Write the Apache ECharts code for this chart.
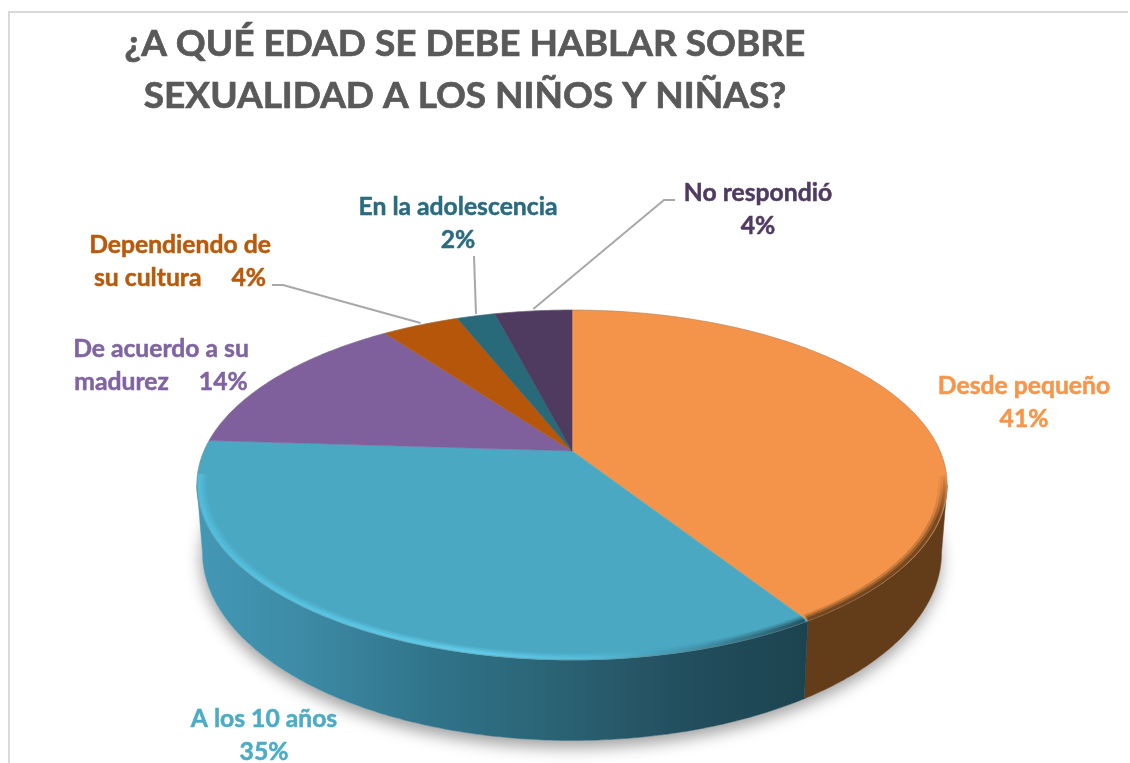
<!DOCTYPE html>
<html><head><meta charset="utf-8">
<style>html,body{margin:0;padding:0;background:#fff}#c{width:1130px;height:763px}</style>
<script src="https://cdn.jsdelivr.net/npm/echarts@6/dist/echarts.min.js"></script>
</head><body><div id="c"></div>
<script>
const titleText = '¿A QUÉ EDAD SE DEBE HABLAR SOBRE\nSEXUALIDAD A LOS NIÑOS Y NIÑAS?';
const categories = ['Desde pequeño', 'A los 10 años', 'De acuerdo a su madurez', 'Dependiendo de su cultura', 'En la adolescencia', 'No respondió'];
const values = [41, 35, 14, 4, 2, 4];
const labelTemplates = ['Desde pequeño\n{v}%', 'A los 10 años\n{v}%', 'De acuerdo a su\nmadurez     {v}%', 'Dependiendo de\nsu cultura     {v}%', 'En la adolescencia\n{v}%', 'No respondió\n{v}%'];
const topColors = ['#F4934A', '#4AA8C3', '#7F609D', '#B5560A', '#28697A', '#4F3A60'];
const textColors = ['#F7964A', '#4BACC6', '#8064A2', '#B85A0C', '#2A6B7E', '#4F3A60'];
const labelPos = [[1024, 403], [264, 736], [161, 366], [180, 262], [458, 224], [758, 210]];
const leaderElbows = [null, null, null, [[283, 285], [272, 285]], [[474, 256]], [[664, 200], [675, 200]]];

// pie geometry: perspective projection of a unit circle
const G = {cx: 572, apexY: 451, A: -80.8, c: 0.194, R: 368, depth: 65, baseScale: 0.985};
const total = values.reduce((a, b) => a + b, 0);
function proj(t) {
  const u = Math.sin(t), v = Math.cos(t), w = 1 + G.c * v;
  return [G.cx + G.R * u / w, (G.A * v + G.apexY) / w, w];
}
function inset(k) {
  return t => { const p = proj(t); return [G.cx + (p[0] - G.cx) * k, G.apexY + (p[1] - G.apexY) * k]; };
}
function base(t) {
  const p = proj(t);
  return [G.cx + (p[0] - G.cx) * G.baseScale, p[1] + G.depth / p[2]];
}
function arc(a, b, fn) {
  const n = Math.max(2, Math.ceil(Math.abs(b - a) / 0.01)), pts = [];
  for (let i = 0; i <= n; i++) pts.push(fn(a + (b - a) * i / n).slice(0, 2));
  return pts;
}
const wallFrom = Math.acos(-G.c), wallTo = 2 * Math.PI - wallFrom;
const starts = [];
values.reduce((s, v, i) => (starts[i] = s, s + v), 0);
const grad = (stops) => ({type: 'linear', x: 197, y: 0, x2: 947, y2: 0, global: true,
  colorStops: stops.map(s => ({offset: (s[0] - 197) / 750, color: s[1]}))});
const wallFills = {
  0: '#633D1A',
  1: grad([[197, '#4398B6'], [300, '#3D8BA6'], [430, '#30748A'], [560, '#2A6274'], [680, '#234F5E'], [805, '#1C4350']])
};
const rimStrokes = {
  0: {type: 'linear', x: 0, y: 472, x2: 0, y2: 520, global: true,
      colorStops: [{offset: 0, color: 'rgba(108,66,28,0)'}, {offset: 1, color: 'rgba(108,66,28,1)'}]},
  1: grad([[197, '#52BEDC'], [300, '#56C4E2'], [470, '#62CDEB'], [600, '#55BAD6'], [700, '#3F8FA6'], [805, '#24505F']])
};
const bevelLayers = [{k: 0.983, width: 6, opacity: 0.28}, {k: 0.989, width: 5, opacity: 0.5}, {k: 0.994, width: 3.5, opacity: 0.85}];

function renderSlice(params, api) {
  const i = params.dataIndex, val = api.value(0);
  const a0 = starts[i] / total * 2 * Math.PI, a1 = (starts[i] + val) / total * 2 * Math.PI;
  const children = [];
  const s = Math.max(a0, wallFrom), e = Math.min(a1, wallTo);
  if (e > s) {
    const top = arc(s, e, proj), bot = arc(e, s, base);
    children.push({type: 'polygon', shape: {points: top.concat(bot)},
      style: {fill: wallFills[i], stroke: wallFills[i], lineWidth: 0.5}});
  }
  const rim = arc(a0, a1, proj);
  children.push({type: 'polygon', shape: {points: [[G.cx, G.apexY]].concat(rim)},
    style: {fill: topColors[i], stroke: topColors[i], lineWidth: 0.5}});
  if (e > s) {
    const bs = i === 1 ? e + 0.06 : s - 0.05, be = i === 1 ? s + 0.004 : e - 0.004;
    bevelLayers.forEach(b => {
      children.push({type: 'polyline', shape: {points: arc(bs, be, inset(b.k))},
        style: {fill: 'none', stroke: rimStrokes[i], lineWidth: b.width, opacity: b.opacity, lineCap: 'butt'}});
    });
  }
  // thin edge on the back half
  children.push({type: 'polyline', shape: {points: rim},
    style: {fill: 'none', stroke: 'rgba(120,120,120,0.35)', lineWidth: 1}});
  // leader line
  if (leaderElbows[i]) {
    const mid = proj((a0 + a1) / 2);
    const pts = [[mid[0], mid[1] - 2]].concat(leaderElbows[i]);
    children.push({type: 'polyline', shape: {points: pts},
      style: {fill: 'none', stroke: '#A8A8A8', lineWidth: 2}});
  }
  children.push({type: 'text', style: {
    text: labelTemplates[i].replace('{v}', val),
    x: labelPos[i][0], y: labelPos[i][1],
    align: 'center', verticalAlign: 'middle', textAlign: 'center', textVerticalAlign: 'middle',
    fill: textColors[i], font: 'bold 24.7px Lato', lineHeight: 33,
    stroke: textColors[i], lineWidth: 0.5
  }});
  return {type: 'group', children};
}
function renderShadow() {
  return {type: 'polygon', shape: {points: arc(0, 2 * Math.PI, base)},
    style: {fill: '#fff', shadowBlur: 16, shadowColor: 'rgba(0,0,0,0.38)', shadowOffsetX: -1, shadowOffsetY: 7}};
}

const chart = echarts.init(document.getElementById('c'), null, {renderer: 'canvas'});
chart.setOption({
  animation: false,
  backgroundColor: '#fff',
  title: {text: titleText, left: 460, top: 13, textAlign: 'center',
    textStyle: {fontFamily: 'Lato', fontWeight: 'bold', fontSize: 37, lineHeight: 52, color: '#595959',
      textBorderColor: '#595959', textBorderWidth: 0.7}},
  graphic: [{type: 'polyline', shape: {points: [[9, 763], [9, 12], [1128, 12]]}, silent: true,
    style: {fill: 'none', stroke: '#D9D9D9', lineWidth: 2}}],
  series: [
    {type: 'custom', coordinateSystem: 'none', silent: true, z: 1, data: [[total]], renderItem: renderShadow},
    {type: 'custom', coordinateSystem: 'none', silent: true, z: 2, clip: false,
     data: values.map((v, i) => ({name: categories[i], value: [v]})), renderItem: renderSlice}
  ]
});
</script></body></html>
